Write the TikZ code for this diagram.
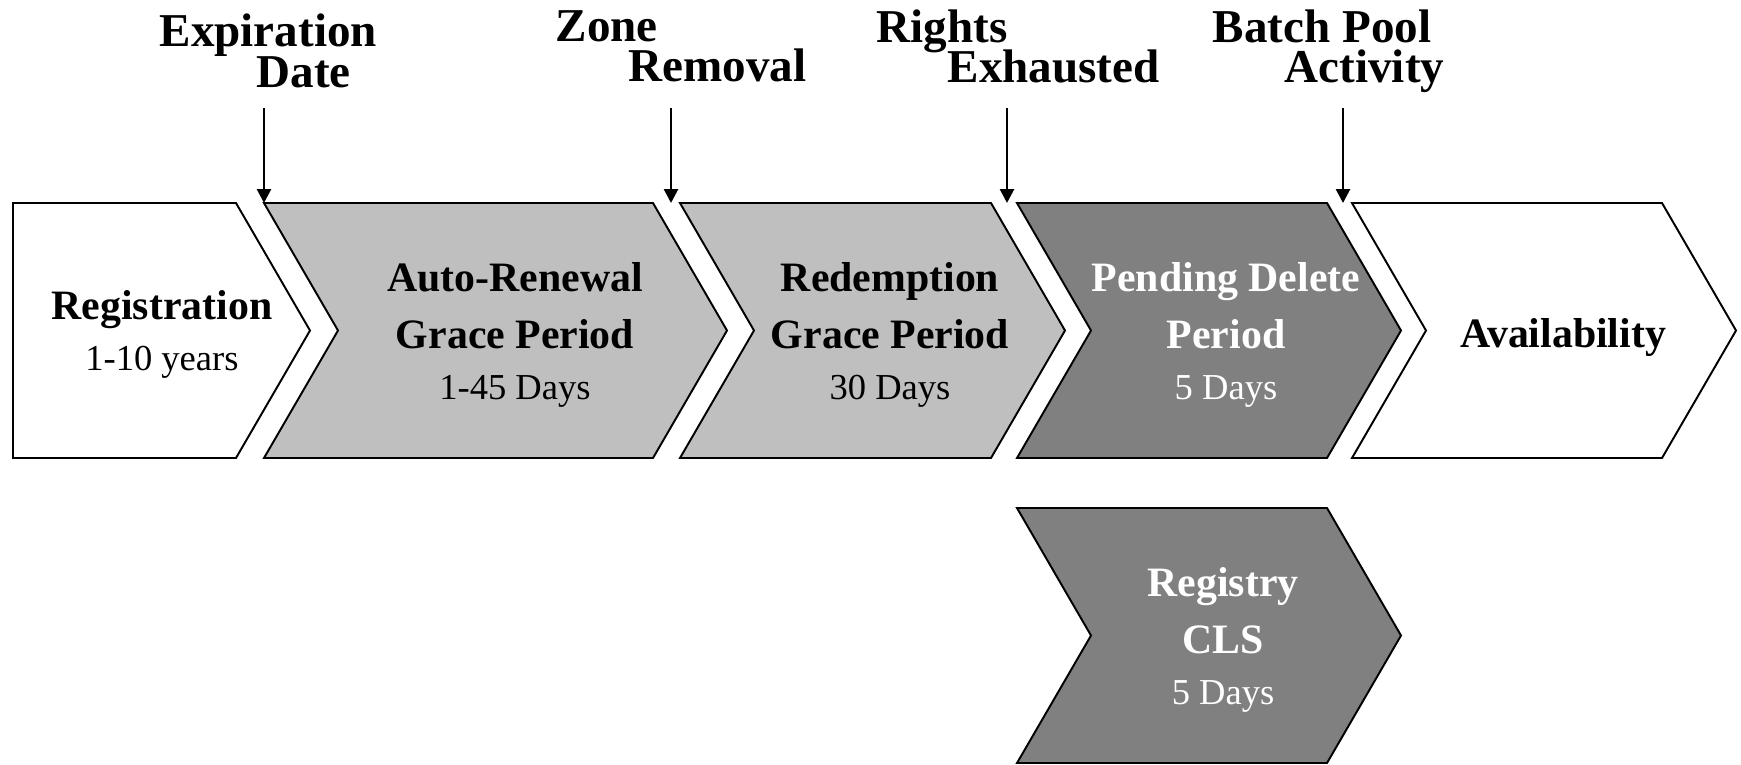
\documentclass[tikz,border=0pt]{standalone}
\usepackage{fontspec}
\setmainfont{Liberation Serif}
\usetikzlibrary{arrows.meta}
\definecolor{lightgrey}{gray}{0.75}
\definecolor{darkgrey}{gray}{0.5}
\newcommand{\dur}{\fontsize{10.4}{12}\selectfont\mdseries}
\newcommand{\tight}{\setlength{\lineskiplimit}{-20pt}}

\begin{document}
\begin{tikzpicture}[
	phase/.style={draw=black,line width=0.55pt,line join=miter},
	phasetext/.style={font=\fontsize{11.9}{16.2}\selectfont\bfseries,align=center,anchor=base,inner sep=0pt},
	event/.style={font=\fontsize{13.4}{11.4}\selectfont\bfseries\tight,align=left,anchor=base west,inner sep=0pt},
	marker/.style={-{Triangle[length=0.14cm,width=0.14cm]},line width=0.75pt}
]
	\useasboundingbox (0,0) rectangle (17.41,-7.64);

	\draw[phase,fill=white] (0.13,-2.03) -- (2.36,-2.03) -- (3.10,-3.305) -- (2.36,-4.58) -- (0.13,-4.58) -- cycle;
	\draw[phase,fill=lightgrey] (2.64,-2.03) -- (6.53,-2.03) -- (7.27,-3.305) -- (6.53,-4.58) -- (2.64,-4.58) -- (3.38,-3.305) -- cycle;
	\draw[phase,fill=lightgrey] (6.80,-2.03) -- (9.91,-2.03) -- (10.65,-3.305) -- (9.91,-4.58) -- (6.80,-4.58) -- (7.54,-3.305) -- cycle;
	\draw[phase,fill=darkgrey] (10.17,-2.03) -- (13.27,-2.03) -- (14.01,-3.305) -- (13.27,-4.58) -- (10.17,-4.58) -- (10.91,-3.305) -- cycle;
	\draw[phase,fill=white] (13.52,-2.03) -- (16.62,-2.03) -- (17.36,-3.305) -- (16.62,-4.58) -- (13.52,-4.58) -- (14.26,-3.305) -- cycle;
	\draw[phase,fill=darkgrey] (10.17,-5.08) -- (13.27,-5.08) -- (14.01,-6.355) -- (13.27,-7.63) -- (10.17,-7.63) -- (10.91,-6.355) -- cycle;

	\node[phasetext] (reg) at (1.62,-3.70) {Registration\\[-1.7pt]{\dur 1-10 years}};
	\node[phasetext] (arg) at (5.15,-3.99) {Auto-Renewal\\Grace Period\\[-1.7pt]{\dur 1-45 Days}};
	\node[phasetext] (rgp) at (8.90,-3.99) {Redemption\\Grace Period\\[-1.7pt]{\dur 30 Days}};
	\node[phasetext,text=white] (pdp) at (12.26,-3.99) {Pending Delete\\Period\\[-1.7pt]{\dur 5 Days}};
	\node[phasetext] (avl) at (15.63,-3.47) {Availability};
	\node[phasetext,text=white] (cls) at (12.23,-7.04) {Registry\\CLS\\[-1.7pt]{\dur 5 Days}};

	\node[event] (exp) at (1.59,-0.87) {Expiration\\[0pt]\hspace*{0.97cm}Date};
	\node[event] (zone) at (5.55,-0.815) {Zone\\[0pt]\hspace*{0.73cm}Removal};
	\node[event] (rights) at (8.76,-0.825) {Rights\\[0pt]\hspace*{0.71cm}Exhausted};
	\node[event] (batch) at (12.12,-0.825) {Batch Pool\\[0pt]\hspace*{0.72cm}Activity};

	\coordinate (f1) at (2.64,-2.03);
	\coordinate (f2) at (6.71,-2.03);
	\coordinate (f3) at (10.07,-2.03);
	\coordinate (f4) at (13.43,-2.03);
	\draw[marker] ([yshift=0.95cm]f1) -- (f1);
	\draw[marker] ([yshift=0.95cm]f2) -- (f2);
	\draw[marker] ([yshift=0.95cm]f3) -- (f3);
	\draw[marker] ([yshift=0.95cm]f4) -- (f4);
\end{tikzpicture}
\end{document}
